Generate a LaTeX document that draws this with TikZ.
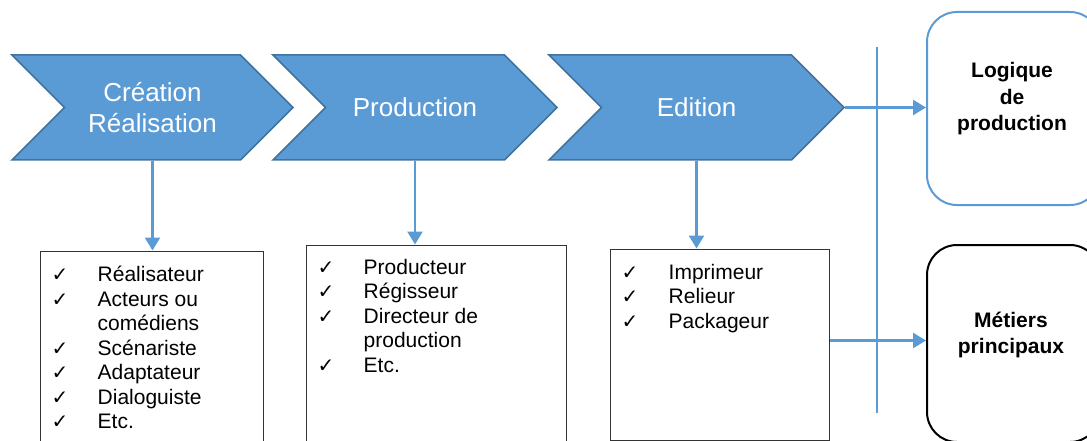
\documentclass[tikz,border=0pt]{standalone}
\usepackage{fontspec}
\setmainfont{Liberation Sans}
\newfontfamily\chkfont{DejaVu Sans}
\usetikzlibrary{shapes.symbols, arrows.meta}
\definecolor{stageblue}{HTML}{5B9BD5}
\definecolor{stageedge}{HTML}{41719C}
\tikzstyle{stage} = [signal, signal from=west, signal to=east, signal pointer angle=90, minimum height=105pt, inner sep=0pt, draw=stageedge, line width=1.5pt, fill=stageblue, text=white, align=center, font=\fontsize{26}{31}\selectfont]
\tikzstyle{listbox} = [rectangle, draw=black!80, line width=1pt, inner sep=0pt]
\tikzstyle{listtext} = [anchor=base west, inner sep=0pt, font=\fontsize{21}{24.5}\selectfont]
\tikzstyle{goal} = [rectangle, rounded corners=30pt, line width=2pt, inner sep=0pt, minimum width=173pt]
\tikzstyle{goaltext} = [align=center, font=\bfseries\fontsize{21}{26.5}\selectfont]
\tikzstyle{arrow} = [line width=2.5pt, draw=stageblue, -{Triangle[length=13pt, width=15pt]}]
\tikzstyle{sepline} = [line width=1.2pt, draw=stageblue]
\newcommand{\chk}{{\chkfont\fontsize{20}{20}\selectfont ✓}}
\begin{document}
\begin{tikzpicture}[x=1pt, y=-1pt]
\clip (0, 0) rectangle (1087, 441);

\node at (152.5, 107.5) (creation) [stage, minimum width=281pt] {Création\\Réalisation};
\node at (415, 107.5) (production) [stage, minimum width=284pt] {Production};
\node at (696.5, 107.5) (edition) [stage, minimum width=295pt] {Edition};

\node at (151.5, 348) (creationlist) [listbox, minimum width=223pt, minimum height=194pt] {};
\node at (436, 345) (productionlist) [listbox, minimum width=260pt, minimum height=200pt] {};
\node at (719.5, 344.5) (editionlist) [listbox, minimum width=219pt, minimum height=191pt] {};

\node [listtext] at ([xshift=12pt, yshift=-31pt]creationlist.north west) {\begin{tabular}[t]{@{}p{46pt}@{}l@{}}
\chk & Réalisateur\\ \chk & Acteurs ou\\ & comédiens\\ \chk & Scénariste\\ \chk & Adaptateur\\ \chk & Dialoguiste\\ \chk & Etc.
\end{tabular}};
\node [listtext] at ([xshift=12pt, yshift=-29.5pt]productionlist.north west) {\begin{tabular}[t]{@{}p{46pt}@{}l@{}}
\chk & Producteur\\ \chk & Régisseur\\ \chk & Directeur de\\ & production\\ \chk & Etc.
\end{tabular}};
\node [listtext] at ([xshift=12pt, yshift=-30.5pt]editionlist.north west) {\begin{tabular}[t]{@{}p{47pt}@{}l@{}}
\chk & Imprimeur\\ \chk & Relieur\\ \chk & Packageur
\end{tabular}};

\node at (1013.5, 108.5) (logique) [goal, draw=stageblue, minimum height=193pt] {};
\node at (1013.5, 343.5) (metiers) [goal, draw=black, minimum height=197pt] {};
\node [goaltext] at ([xshift=-1.5pt, yshift=9.5pt]logique.center) {Logique\\de\\production};
\node [goaltext] at ([xshift=-2.5pt, yshift=8.5pt]metiers.center) {Métiers\\principaux};

\coordinate (septop) at (877, 47);
\coordinate (sepbot) at (877, 413);
\draw [sepline] (septop) -- (sepbot);

\draw [arrow] (creation.south) -- (creation.south |- creationlist.north);
\draw [arrow] (production.south) -- (production.south |- productionlist.north);
\draw [arrow] (edition.south) -- (edition.south |- editionlist.north);
\draw [arrow] (edition.east) -- (edition.east -| logique.west);
\draw [arrow] ([yshift=4pt]editionlist.east) -- ([yshift=4pt]editionlist.east -| metiers.west);

\end{tikzpicture}
\end{document}
